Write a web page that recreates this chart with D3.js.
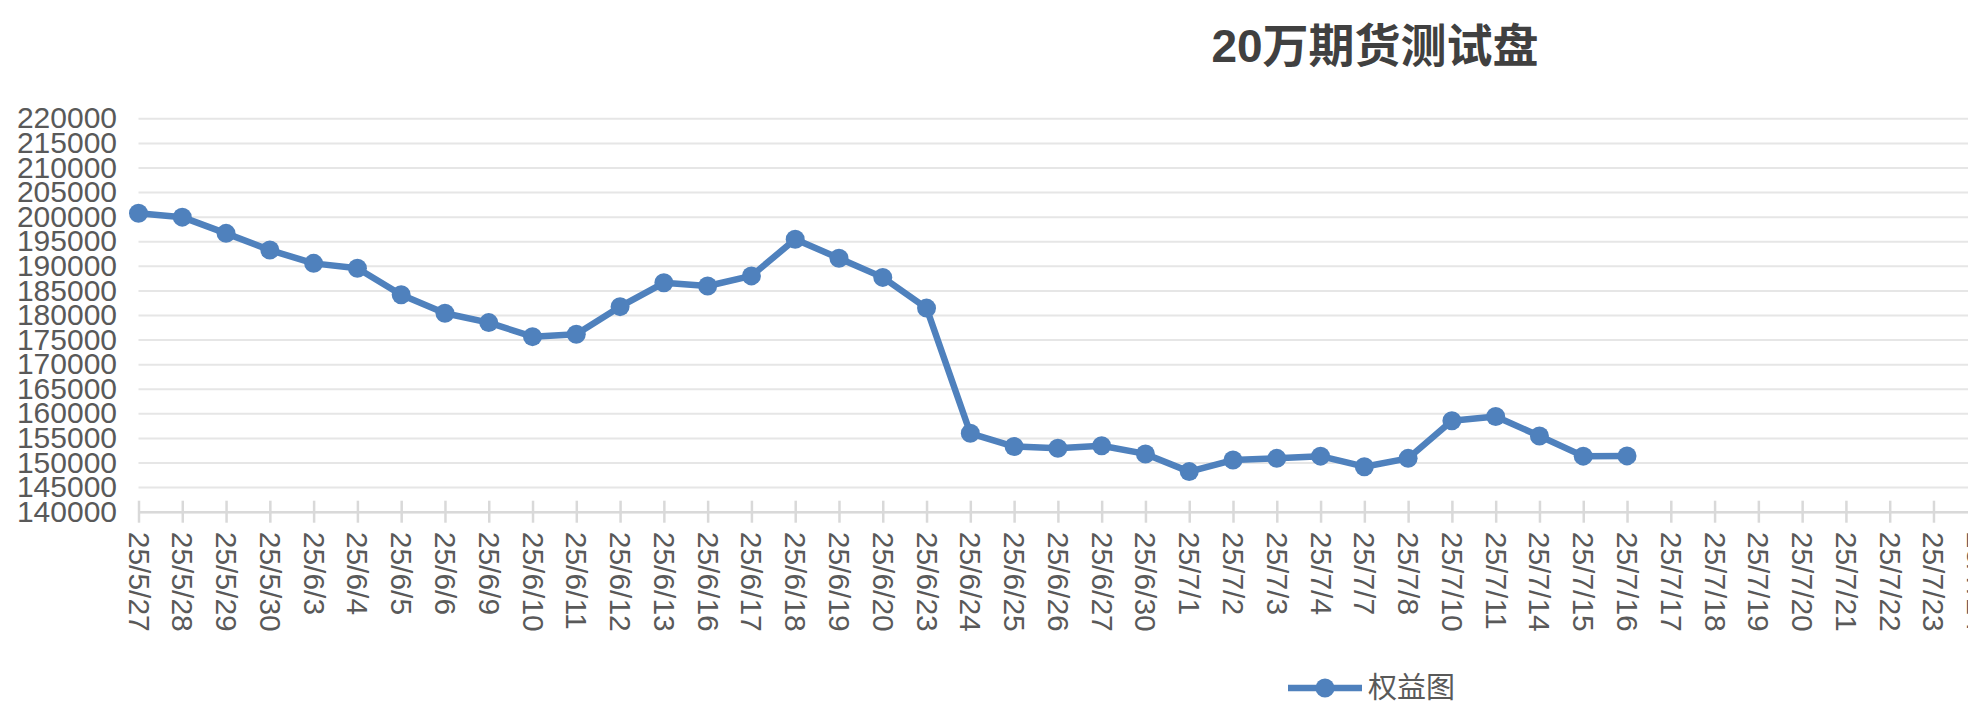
<!DOCTYPE html>
<html>
<head>
<meta charset="utf-8">
<script src="https://cdn.jsdelivr.net/npm/d3@7"></script>
<style>
	body { margin: 0; background: #fff; }
	#vis { width: 1968px; height: 722px; overflow: hidden; }
	.grid line { stroke: #e6e6e6; stroke-width: 2; }
	.xaxis line, .xaxis path { stroke: #d9d9d9; stroke-width: 2.5; }
	text { font-family: "Liberation Sans", Arial, "Noto Sans CJK SC", sans-serif; fill: #595959; }
</style>
</head>
<body>
<div id="vis"></div>
<script>
// categories (x axis) - 7/9 is missing in the original sheet
var dates = ['25/5/27', '25/5/28', '25/5/29', '25/5/30', '25/6/3', '25/6/4', '25/6/5', '25/6/6',
	'25/6/9', '25/6/10', '25/6/11', '25/6/12', '25/6/13', '25/6/16', '25/6/17', '25/6/18',
	'25/6/19', '25/6/20', '25/6/23', '25/6/24', '25/6/25', '25/6/26', '25/6/27', '25/6/30',
	'25/7/1', '25/7/2', '25/7/3', '25/7/4', '25/7/7', '25/7/8', '25/7/10', '25/7/11',
	'25/7/14', '25/7/15', '25/7/16', '25/7/17', '25/7/18', '25/7/19', '25/7/20', '25/7/21',
	'25/7/22', '25/7/23', '25/7/24'];

// 权益图 series (only filled up to 7/16)
var equity = [200700, 199900, 196600, 193200, 190500, 189500, 184100, 180350,
	178450, 175600, 176100, 181700, 186550, 185900, 187950, 195400,
	191550, 187650, 181400, 155950, 153250, 152900, 153400, 151750,
	148150, 150500, 150850, 151300, 149150, 150850, 158500, 159350,
	155400, 151300, 151350];

var yTicks = [140000, 145000, 150000, 155000, 160000, 165000, 170000, 175000, 180000,
	185000, 190000, 195000, 200000, 205000, 210000, 215000, 220000];

var title = '20万期货测试盘';
var seriesName = '权益图';

var width = 1968, height = 722;
var plotLeft = 138.5, step = 43.78;
var plotTop = 118.3, plotBottom = 511.7;

var svg = d3.select('#vis').append('svg')
	.attr('width', width)
	.attr('height', height);

var x = d3.scalePoint()
	.domain(dates)
	.range([plotLeft, plotLeft + step * (dates.length - 1)]);

var y = d3.scaleLinear()
	.domain([yTicks[0], yTicks[yTicks.length - 1]])
	.range([plotBottom, plotTop]);

// gridlines + y labels
var gy = svg.append('g')
	.attr('class', 'grid')
	.attr('transform', 'translate(' + plotLeft + ',0)')
	.call(d3.axisLeft(y).tickValues(yTicks).tickSize(-(width - plotLeft)).tickPadding(21.5).tickFormat(d3.format('d')));
gy.select('.domain').remove();
gy.selectAll('text').style('font-size', '30px');

// x axis, ticks cross the line
var gx = svg.append('g')
	.attr('class', 'xaxis')
	.attr('transform', 'translate(0,' + plotBottom + ')')
	.call(d3.axisBottom(x).tickSize(11).tickSizeOuter(0));
gx.selectAll('.tick line').attr('y1', -11);
gx.selectAll('text')
	.attr('transform', 'rotate(90)')
	.attr('x', 20)
	.attr('y', 0)
	.attr('dy', '0.35em')
	.attr('text-anchor', 'start')
	.style('font-size', '30px');

// the series
var line = d3.line()
	.x(function(d, i) { return x(dates[i]); })
	.y(function(d) { return y(d); });

svg.append('path')
	.datum(equity)
	.attr('d', line)
	.attr('fill', 'none')
	.attr('stroke', '#4f81bd')
	.attr('stroke-width', 6.5)
	.attr('stroke-linejoin', 'round');

svg.selectAll('circle.pt')
	.data(equity)
	.enter()
	.append('circle')
	.attr('class', 'pt')
	.attr('cx', function(d, i) { return x(dates[i]); })
	.attr('cy', function(d) { return y(d); })
	.attr('r', 9.5)
	.style('fill', '#4f81bd');

// title
svg.append('text')
	.attr('x', 1375)
	.attr('y', 62)
	.attr('text-anchor', 'middle')
	.style('font-size', '46px')
	.style('font-weight', 'bold')
	.style('fill', '#404040')
	.text(title);

// legend
var lg = svg.append('g').attr('transform', 'translate(1288,688)');
lg.append('line')
	.attr('x1', 0).attr('x2', 74)
	.attr('stroke', '#4f81bd')
	.attr('stroke-width', 6.5);
lg.append('circle')
	.attr('cx', 37)
	.attr('r', 9.5)
	.style('fill', '#4f81bd');
lg.append('text')
	.attr('x', 80)
	.attr('dy', '0.35em')
	.style('font-size', '29px')
	.text(seriesName);
</script>
</body>
</html>
